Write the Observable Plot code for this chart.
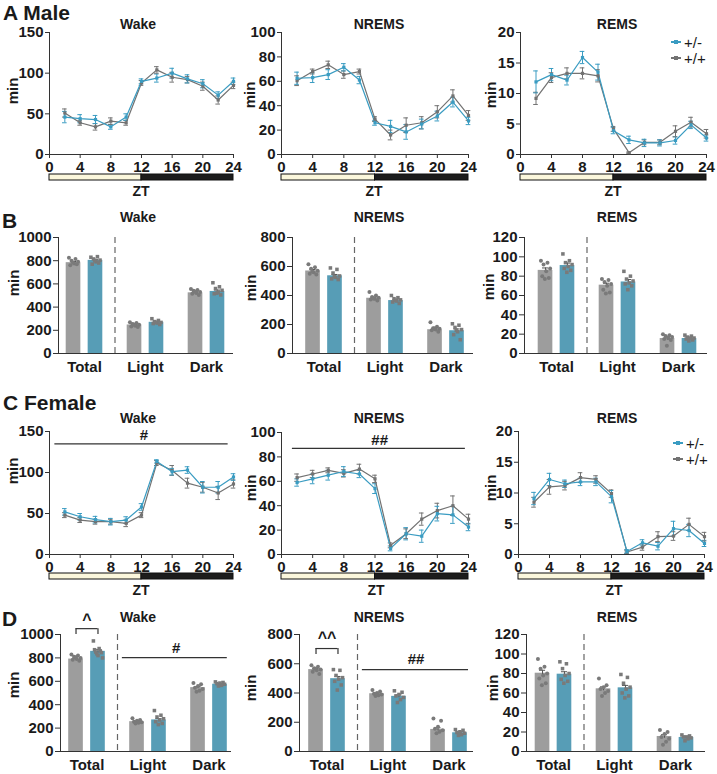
<!DOCTYPE html>
<html><head><meta charset="utf-8">
<script src="https://cdn.jsdelivr.net/npm/d3@7"></script>
<script src="https://cdn.jsdelivr.net/npm/@observablehq/plot@0.6"></script>
<style>
body{margin:0;background:#fff}
#fig{position:relative;width:717px;height:774px;overflow:hidden;background:#fff;font-family:"Liberation Sans",Arial,sans-serif;color:#1a1a1a}
</style></head><body><div id="fig"></div>
<script>
// ---------- DATA ----------
const ZT = [2,4,6,8,10,12,14,16,18,20,22,24];
const ZT_TICKS = [0,4,8,12,16,20,24];
const PHASE_NAMES = ["light","dark"];
const PHASE_START = [0,12];
const PHASE_END = [12,24];
const GROUPS = ["Total","Light","Dark"];
const GENOTYPES = ["+/+","+/-"];

// Male, 2-h bins (min)
const maleWakeHet = [46,44,43,34,46,90,94,100,93,87,73,90];
const maleWakeWT  = [51,39,34,41,39,88,104,95,92,84,67,85];
const maleWakeHetSem = [7,5,5,3,4,3,5,6,5,5,4,4];
const maleWakeWTSem  = [5,3,4,4,3,3,4,6,4,5,5,4];
const maleNremsHet = [62.5,63,65.5,71.5,61,26,23,18.5,25,31.5,43,27.5];
const maleNremsWT  = [60.5,68,73.5,65.5,68,29,16,24,26,35,48,32];
const maleNremsHetSem = [5,4,4,3,3,2,5,6,4,4,4,3];
const maleNremsWTSem  = [4,2,3,3,2,2,4,6,5,5,5,4];
const maleRemsHet = [11.9,13.1,12.2,15.9,13.5,3.9,2.4,1.9,1.9,2.3,4.85,2.7];
const maleRemsWT  = [9.2,12.6,13.3,13.3,12.9,4.2,0.3,2.0,2.0,3.8,5.3,3.4];
const maleRemsHetSem = [1.8,1.0,0.8,1.0,1.3,0.5,0.6,0.6,0.5,0.6,0.6,0.5];
const maleRemsWTSem  = [1.0,0.8,0.9,0.9,1.0,0.4,0.1,0.4,0.4,0.9,0.8,0.7];

// Female, 2-h bins (min)
const femWakeHet = [52,46,42.5,40,42,58,113.5,101,103,82,82,94.5];
const femWakeWT  = [48,42,40,40,38,48,111.5,102.5,87,82,75,86];
const femWakeHetSem = [4,4,4,4,4,4,2,4,4,7,7,4];
const femWakeWTSem  = [3,3,3,3,4,3,3,6,6,6,8,5];
const femNremsHet = [59,62,65,68,66,54,5,17,15,33.5,32.5,22.5];
const femNremsWT  = [63,66,69,66.5,70,62,7.5,17,29,36,40,29];
const femNremsHetSem = [3,4,4,4,3,4,2,5,5,6,7,3];
const femNremsWTSem  = [3,3,2,3,4,3,2,4,5,6,8,4];
const femRemsHet = [9.1,12.2,11.5,11.8,11.8,9.4,0.5,1.9,1.35,4.2,3.9,1.8];
const femRemsWT  = [8.5,11.0,11.2,12.5,12.2,9.9,0.4,1.2,2.9,3.0,4.9,2.9];
const femRemsHetSem = [1.0,1.0,0.6,0.6,0.6,1.0,0.3,0.5,0.6,1.2,1.0,0.5];
const femRemsWTSem  = [0.8,1.2,0.7,0.8,0.6,0.6,0.2,0.5,0.8,0.7,1.0,0.7];

// Male totals (Total, Light, Dark)
const maleWakeBarWT = [783,246,523];
const maleWakeBarHet = [803,269,535];
const maleWakeBarWTSem = [10,6,6];
const maleWakeBarHetSem = [9,7,12];
const maleWakePtsWT = [[825,815,800,790,775,760,770,785],[270,262,255,248,240,232,228,250],[555,548,540,530,522,515,505,535]];
const maleWakePtsHet = [[830,835,815,805,790,770,780,800],[300,285,275,268,262,258,250,270],[610,575,560,545,530,515,505,520]];
const maleNremsBarWT = [569,381,164];
const maleNremsBarHet = [536,365,157];
const maleNremsBarWTSem = [10,8,6];
const maleNremsBarHetSem = [9,6,12];
const maleNremsPtsWT = [[615,595,585,570,560,550,545,565],[425,400,390,385,378,372,365,380],[215,185,175,170,165,160,150,175]];
const maleNremsPtsHet = [[590,580,555,535,525,515,510,530],[400,385,378,370,362,355,345,368],[205,195,180,165,150,130,95,160]];
const maleRemsBarWT = [86,70.7,15.5];
const maleRemsBarHet = [91,74,15.5];
const maleRemsBarWTSem = [2.5,2,1.5];
const maleRemsBarHetSem = [2.5,2.5,1];
const maleRemsPtsWT = [[96,94,92,88,85,80,78,77],[77,76,74,72,70,66,63,62],[20,19,18,17,16,15,14,8]];
const maleRemsPtsHet = [[103,96,94,92,90,88,86,84],[85,80,77,75,73,72,70,66],[19,18,17,16,16,15,14,13]];

// Female totals (Total, Light, Dark)
const femWakeBarWT = [790,255,546];
const femWakeBarHet = [856,270,575];
const femWakeBarWTSem = [9,6,9];
const femWakeBarHetSem = [14,12,5];
const femWakePtsWT = [[830,820,810,800,790,785,775,805],[285,270,262,255,250,245,240],[585,575,560,545,535,520,510]];
const femWakePtsHet = [[945,880,870,860,850,845,835,800,820],[350,310,295,280,270,255,240,230],[595,590,585,580,575,565,560]];
const femNremsBarWT = [560,395,151];
const femNremsBarHet = [498,377,128];
const femNremsBarWTSem = [7,5,11];
const femNremsBarHetSem = [15,10,6];
const femNremsPtsWT = [[590,580,570,560,555,545,530,565],[420,410,400,395,390,385,380],[225,210,170,155,145,135,125]];
const femNremsPtsHet = [[560,555,520,505,495,480,455,420],[415,405,390,380,370,355,335],[150,145,135,130,125,115,110]];
const femRemsBarWT = [80.3,64.3,15.4];
const femRemsBarHet = [79.3,65.3,14.4];
const femRemsBarWTSem = [3,2,1.8];
const femRemsBarHetSem = [2.5,2.5,1];
const femRemsPtsWT = [[95,87,85,80,78,75,70,68],[75,68,66,64,62,60,57],[22,20,18,15,13,10,7]];
const femRemsPtsHet = [[92,90,85,80,78,74,72,70],[79,76,70,66,64,60,57,55],[17,16,15,15,14,13,11]];

// Significance annotations (data units)
const femWakeLineNote = {label:"#", y:135, x1:0.7, x2:23.3, tx:12.3, ty:145};
const femNremsLineNote = {label:"##", y:87, x1:1.4, x2:23.6, tx:12.6, ty:93.5};
const femWakeBarNote = {bracket:"^", by:1050, bdrop:1000, bty:1125, label:"#", y:803, x1:0.58, x2:2.3, tx:1.46, ty:885};
const femNremsBarNote = {bracket:"^^", by:704, bdrop:663, bty:775, label:"##", y:560, x1:0.58, x2:2.32, tx:1.46, ty:633};

// ---------- STYLE ----------
const BLUE_LINE = "#3a9cc2", GRAY_LINE = "#727272";
const BLUE_BAR = "#579db6", GRAY_BAR = "#9d9d9d", PT = "#7a7a7a";
const CREAM = "#fbf7dc", DARK = "#1c1c1c", AXIS = "#333";
const FONT = "'Liberation Sans', Arial, sans-serif";
const fig = document.getElementById("fig");
const fmt = d => String(d);

function place(node, left, top) {
  const d = document.createElement("div");
  d.style.cssText = `position:absolute;left:${left}px;top:${top}px;`;
  d.appendChild(node);
  fig.appendChild(d);
}
function txt(s, x, y, o = {}) {
  const d = document.createElement("div");
  d.textContent = s;
  const tx = o.anchor === "start" ? "0" : "-50%";
  d.style.cssText = `position:absolute;left:${x}px;top:${y}px;white-space:nowrap;line-height:1;font-weight:${o.w || "bold"};font-size:${o.size || 14}px;color:${o.color || "#1a1a1a"};transform:translate(${tx},-50%)${o.rot ? ` rotate(${o.rot}deg)` : ""};`;
  fig.appendChild(d);
}
const svgStyle = `background:none;overflow:visible;font-family:${FONT};font-size:15px;font-weight:bold;color:#1a1a1a;`;

// ---------- LINE PANELS ----------
const ML = 48, MR = 10, MT = 20, MB = 24;
function linePanel(c) {
  const data = [];
  ZT.forEach((t, i) => data.push({zt: t, g: "+/+", v: c.wt[i], e: c.wtSem[i]}));
  ZT.forEach((t, i) => data.push({zt: t, g: "+/-", v: c.het[i], e: c.hetSem[i]}));
  const CAP = 0.3;
  const marks = [
    Plot.frame({anchor: "left", stroke: AXIS}),
    Plot.frame({anchor: "bottom", stroke: AXIS}),
    Plot.axisX({ticks: ZT_TICKS, tickSize: 4, tickPadding: 3, label: null, stroke: AXIS, tickFormat: fmt}),
    Plot.axisY({ticks: c.ticks, tickSize: 4, tickPadding: 2, label: null, stroke: AXIS, tickFormat: fmt}),
    Plot.ruleX(data, {x: "zt", y1: d => d.v - d.e, y2: d => d.v + d.e, stroke: "g", strokeWidth: 1}),
    Plot.ruleY(data, {y: d => d.v + d.e, x1: d => d.zt - CAP, x2: d => d.zt + CAP, stroke: "g"}),
    Plot.ruleY(data, {y: d => d.v - d.e, x1: d => d.zt - CAP, x2: d => d.zt + CAP, stroke: "g"}),
    Plot.line(data, {x: "zt", y: "v", z: "g", stroke: "g", strokeWidth: 1.2}),
    Plot.dot(data, {x: "zt", y: "v", fill: "g", symbol: "square", r: 1.8})
  ];
  if (c.note) {
    marks.push(Plot.ruleY([c.note], {y: "y", x1: "x1", x2: "x2", stroke: AXIS, strokeWidth: 1.2}));
    marks.push(Plot.text([c.note], {x: "tx", y: "ty", text: "label", fontSize: 15, fontWeight: "bold", fill: "#1a1a1a"}));
  }
  const p = Plot.plot({
    width: ML + c.fw + MR, height: MT + c.fh + MB,
    marginLeft: ML, marginRight: MR, marginTop: MT, marginBottom: MB,
    style: svgStyle,
    x: {domain: [0, 24]},
    y: {domain: [0, c.max]},
    color: {domain: GENOTYPES, range: [GRAY_LINE, BLUE_LINE]},
    marks
  });
  place(p, c.left, c.top);
  // light/dark bar
  const phases = PHASE_NAMES.map((n, i) => ({phase: n, x1: PHASE_START[i], x2: PHASE_END[i]}));
  const lb = Plot.plot({
    width: ML + c.fw + MR, height: 8,
    marginLeft: ML, marginRight: MR, marginTop: 1, marginBottom: 1,
    style: svgStyle,
    x: {domain: [0, 24], axis: null},
    color: {domain: PHASE_NAMES, range: [CREAM, DARK]},
    marks: [Plot.rect(phases, {x1: "x1", x2: "x2", fill: "phase", stroke: "#111", strokeWidth: 1})]
  });
  place(lb, c.left, c.barTop);
}

const linePanels = [
  {left: 1,   top: 12,  fh: 122, fw: 184, barTop: 173, max: 150, ticks: [0,50,100,150], het: maleWakeHet, wt: maleWakeWT, hetSem: maleWakeHetSem, wtSem: maleWakeWTSem},
  {left: 233, top: 12,  fh: 122, fw: 187, barTop: 173, max: 100, ticks: [0,20,40,60,80,100], het: maleNremsHet, wt: maleNremsWT, hetSem: maleNremsHetSem, wtSem: maleNremsWTSem},
  {left: 472, top: 12,  fh: 122, fw: 186, barTop: 173, max: 20, ticks: [0,5,10,15,20], het: maleRemsHet, wt: maleRemsWT, hetSem: maleRemsHetSem, wtSem: maleRemsWTSem},
  {left: 1,   top: 411, fh: 123, fw: 184, barTop: 572, max: 150, ticks: [0,50,100,150], het: femWakeHet, wt: femWakeWT, hetSem: femWakeHetSem, wtSem: femWakeWTSem, note: femWakeLineNote},
  {left: 233, top: 412, fh: 122, fw: 187, barTop: 572, max: 100, ticks: [0,20,40,60,80,100], het: femNremsHet, wt: femNremsWT, hetSem: femNremsHetSem, wtSem: femNremsWTSem, note: femNremsLineNote},
  {left: 470, top: 411, fh: 123, fw: 186, barTop: 572, max: 20, ticks: [0,5,10,15,20], het: femRemsHet, wt: femRemsWT, hetSem: femRemsHetSem, wtSem: femRemsWTSem}
];
linePanels.forEach(linePanel);

// ---------- BAR PANELS ----------
const BML = 55, BMR = 6, BMT = 30, BMB = 24, UNIT = 61;
function barPanel(c) {
  const bars = [], pts = [];
  GROUPS.forEach((name, i) => {
    bars.push({i, g: "+/+", v: c.wt[i], e: c.wtSem[i]});
    bars.push({i, g: "+/-", v: c.het[i], e: c.hetSem[i]});
    c.wtPts[i].forEach((v, k, a) => pts.push({i, g: "+/+", v, k, n: a.length}));
    c.hetPts[i].forEach((v, k, a) => pts.push({i, g: "+/-", v, k, n: a.length}));
  });
  const OFF = 0.18, HALF = 0.12;
  const cx = d => d.i + (d.g === "+/+" ? -OFF : OFF);
  const jx = d => cx(d) + (((d.k * 5) % d.n) / (d.n - 1) - 0.5) * 0.15;
  const marks = [
    Plot.ruleX([0.5], {stroke: "#666", strokeDasharray: "6,4", strokeWidth: 1.2}),
    Plot.rectY(bars, {x1: d => cx(d) - HALF, x2: d => cx(d) + HALF, y1: 0, y2: "v", fill: "g"}),
    Plot.ruleX(bars, {x: cx, y1: d => d.v - d.e, y2: d => d.v + d.e, stroke: "#555"}),
    Plot.ruleY(bars, {x1: d => cx(d) - 0.05, x2: d => cx(d) + 0.05, y: d => d.v + d.e, stroke: "#555"}),
    Plot.dot(pts, {x: jx, y: "v", r: 2, fill: PT, symbol: "g"}),
    Plot.frame({anchor: "left", stroke: AXIS}),
    Plot.frame({anchor: "bottom", stroke: AXIS}),
    Plot.axisY({ticks: c.ticks, tickSize: 5, tickPadding: 2, label: null, stroke: AXIS, tickFormat: fmt}),
    Plot.axisX({ticks: [0, 1, 2], tickFormat: i => GROUPS[i], tickSize: 0, tickPadding: 8, label: null})
  ];
  if (c.note) {
    const n = c.note;
    marks.push(Plot.ruleY([n], {y: "by", x1: -OFF, x2: OFF, stroke: AXIS, strokeWidth: 1.2}));
    marks.push(Plot.ruleX([-OFF, OFF], {y1: n.bdrop, y2: n.by, stroke: AXIS, strokeWidth: 1.2}));
    marks.push(Plot.text([n], {x: 0, y: "bty", text: "bracket", fontSize: 16, fontWeight: "bold", fill: "#1a1a1a"}));
    marks.push(Plot.ruleY([n], {y: "y", x1: "x1", x2: "x2", stroke: AXIS, strokeWidth: 1.2}));
    marks.push(Plot.text([n], {x: "tx", y: "ty", text: "label", fontSize: 15, fontWeight: "bold", fill: "#1a1a1a"}));
  }
  const p = Plot.plot({
    width: BML + c.fw + BMR, height: BMT + c.fh + BMB,
    marginLeft: BML, marginRight: BMR, marginTop: BMT, marginBottom: BMB,
    style: svgStyle,
    x: {domain: [-c.off / UNIT, (c.fw - c.off) / UNIT]},
    y: {domain: [0, c.max]},
    color: {domain: GENOTYPES, range: [GRAY_BAR, BLUE_BAR]},
    symbol: {domain: GENOTYPES, range: ["circle", "square"]},
    marks
  });
  place(p, c.left, c.top);
}
const barPanels = [
  {left: 3,   top: 207, fh: 116, fw: 174, off: 26,   max: 1000, ticks: [0,200,400,600,800,1000], wt: maleWakeBarWT, het: maleWakeBarHet, wtSem: maleWakeBarWTSem, hetSem: maleWakeBarHetSem, wtPts: maleWakePtsWT, hetPts: maleWakePtsHet},
  {left: 237, top: 207, fh: 116, fw: 180, off: 31.5, max: 800, ticks: [0,200,400,600,800], wt: maleNremsBarWT, het: maleNremsBarHet, wtSem: maleNremsBarWTSem, hetSem: maleNremsBarHetSem, wtPts: maleNremsPtsWT, hetPts: maleNremsPtsHet},
  {left: 469, top: 207, fh: 116, fw: 182, off: 32,   max: 120, ticks: [0,20,40,60,80,100,120], wt: maleRemsBarWT, het: maleRemsBarHet, wtSem: maleRemsBarWTSem, hetSem: maleRemsBarHetSem, wtPts: maleRemsPtsWT, hetPts: maleRemsPtsHet},
  {left: 5,   top: 604, fh: 117, fw: 170, off: 26.5, max: 1000, ticks: [0,200,400,600,800,1000], wt: femWakeBarWT, het: femWakeBarHet, wtSem: femWakeBarWTSem, hetSem: femWakeBarHetSem, wtPts: femWakePtsWT, hetPts: femWakePtsHet, note: femWakeBarNote},
  {left: 244, top: 604, fh: 117, fw: 173, off: 27.5, max: 800, ticks: [0,200,400,600,800], wt: femNremsBarWT, het: femNremsBarHet, wtSem: femNremsBarWTSem, hetSem: femNremsBarHetSem, wtPts: femNremsPtsWT, hetPts: femNremsPtsHet, note: femNremsBarNote},
  {left: 471, top: 604, fh: 117, fw: 178, off: 27,   max: 120, ticks: [0,20,40,60,80,100,120], wt: femRemsBarWT, het: femRemsBarHet, wtSem: femRemsBarWTSem, hetSem: femRemsBarHetSem, wtPts: femRemsPtsWT, hetPts: femRemsPtsHet}
];
barPanels.forEach(barPanel);

// ---------- TEXT ----------
txt("A Male", 3, 12, {size: 21, anchor: "start"});
txt("B", 2, 220, {size: 21, anchor: "start"});
txt("C Female", 3, 402, {size: 21, anchor: "start"});
txt("D", 2, 618, {size: 21, anchor: "start"});
const TITLES = ["Wake", "NREMS", "REMS"];
const titleX = [138, 379, 617];
[24, 217, 418, 617].forEach(y => TITLES.forEach((t, i) => txt(t, titleX[i], y, {size: 14})));
[[141, 191], [374, 191], [613, 191], [141, 590], [376, 590], [614, 590]].forEach(([x, y]) => txt("ZT", x, y, {size: 14}));
[[12, 91], [249, 95], [490, 95], [13, 283], [250, 288], [488, 287], [12, 471], [250, 488], [490, 488], [13, 685], [250, 688], [492, 688]]
  .forEach(([x, y]) => txt("min", x, y, {size: 15, rot: -90}));

// legends
function legend(x, y, label, color) {
  const l = document.createElement("div");
  l.style.cssText = `position:absolute;left:${x - 5}px;top:${y - 0.75}px;width:10px;height:1.5px;background:${color}`;
  fig.appendChild(l);
  const s = document.createElement("div");
  s.style.cssText = `position:absolute;left:${x - 2}px;top:${y - 2}px;width:4px;height:4px;background:${color}`;
  fig.appendChild(s);
  txt(label, x + 8, y, {size: 15, w: "normal", anchor: "start"});
}
legend(676, 42, "+/-", BLUE_LINE);
legend(676, 58, "+/+", GRAY_LINE);
legend(678, 443, "+/-", BLUE_LINE);
legend(678, 459, "+/+", GRAY_LINE);
</script></body></html>
